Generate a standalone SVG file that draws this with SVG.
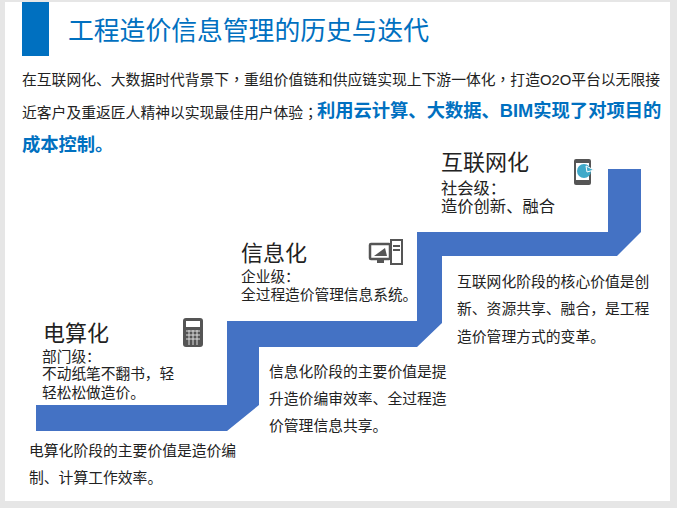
<svg xmlns="http://www.w3.org/2000/svg" width="677" height="508" viewBox="0 0 677 508">
<style>
text{font-family:"Liberation Sans","Noto Sans CJK SC",sans-serif;fill:#222}
.t{font-size:25.8px;fill:#0070c0}
.body{font-size:14.8px}
.c{font-family:"Noto Sans CJK TC",sans-serif}
.hl{font-size:18.3px;font-weight:700;fill:#0070c0}
.h{font-size:22px}
.s{font-size:14.7px}
.s3{font-size:16.3px}
.d{font-size:14.8px}
.ic{fill:#555}
</style>
<rect width="677" height="508" fill="#e6e6e6"/>
<rect x="5" y="2" width="665" height="499" fill="#fff"/>
<g id="title">
<rect x="22" y="2" width="27" height="54" fill="#0070c0"/>
<text class="t" x="68" y="40">工程造价信息管理的历史与迭代</text>
</g>
<g id="intro">
<text class="body" x="22" y="85">在互联网化、大数据时代背景下<tspan class="c">，</tspan>重组价值链和供应链实现上下游一体化<tspan class="c">，</tspan>打造O2O平台以无限接</text>
<text class="body" x="22" y="118">近客户及重返匠人精神以实现最佳用户体验<tspan class="c">；</tspan><tspan class="hl" dx="-1" dy="-1">利用云计算、大数据、BIM实现了对项目的</tspan></text>
<text class="hl" x="22" y="151">成本控制。</text>
</g>
<g id="stairs">
<polygon points="36,405 227,405 227,321 417,321 417,232 608,232 608,169 641,169 641,232 617,256 442,256 442,323 417,347 259,347 259,405 227,431 36,431" fill="#4472c4"/>
</g>
<g id="stage-1">
<text class="h" x="43" y="341">电算化</text>
<text class="s" x="42" y="362">部门级：</text>
<text class="s" x="42" y="379">不动纸笔不翻书，轻</text>
<text class="s" x="42" y="398">轻松松做造价。</text>
<rect x="183" y="318" width="20" height="29" rx="3" class="ic"/>
<rect x="186" y="321" width="14" height="6" fill="#fff"/>
<path d="M186 331H200M186 335H200M186 339H200M189 330V345M193 330V345M197 330V345" stroke="#ddd" stroke-width="1" fill="none"/>
<text class="d" x="29" y="456">电算化阶段的主要价值是造价编</text>
<text class="d" x="29" y="483">制、计算工作效率。</text>
</g>
<g id="stage-2">
<text class="h" x="241" y="261">信息化</text>
<text class="s" x="241" y="282">企业级：</text>
<text class="s" x="241" y="300">全过程造价管理信息系统。</text>
<rect x="370" y="244" width="20" height="15" rx="1" fill="#fff" stroke="#555" stroke-width="2.5"/>
<path d="M374 256L385 248L387 256Z" class="ic"/>
<rect x="377" y="259" width="7" height="4" class="ic"/>
<rect x="391" y="240" width="11" height="24" fill="#fff" stroke="#555" stroke-width="2"/>
<path d="M393 246H400M393 250H400" stroke="#555" stroke-width="2"/>
<text class="d" x="269" y="377">信息化阶段的主要价值是提</text>
<text class="d" x="269" y="404">升造价编审效率、全过程造</text>
<text class="d" x="269" y="431">价管理信息共享。</text>
</g>
<g id="stage-3">
<text class="h" x="441" y="170">互联网化</text>
<text class="s3" x="441" y="194">社会级：</text>
<text class="s3" x="441" y="212">造价创新、融合</text>
<rect x="574" y="159" width="17" height="26" rx="2" fill="#555"/>
<rect x="576" y="163" width="13" height="17" fill="#fff"/>
<circle cx="584" cy="171" r="7" fill="#3fa9c9"/>
<path d="M586 166L594 170L587 172Z" fill="#3fa9c9" stroke="#fff"/>
<text class="d" x="457" y="287">互联网化阶段的核心价值是创</text>
<text class="d" x="457" y="314">新、资源共享、融合，是工程</text>
<text class="d" x="457" y="342">造价管理方式的变革。</text>
</g>
</svg>
